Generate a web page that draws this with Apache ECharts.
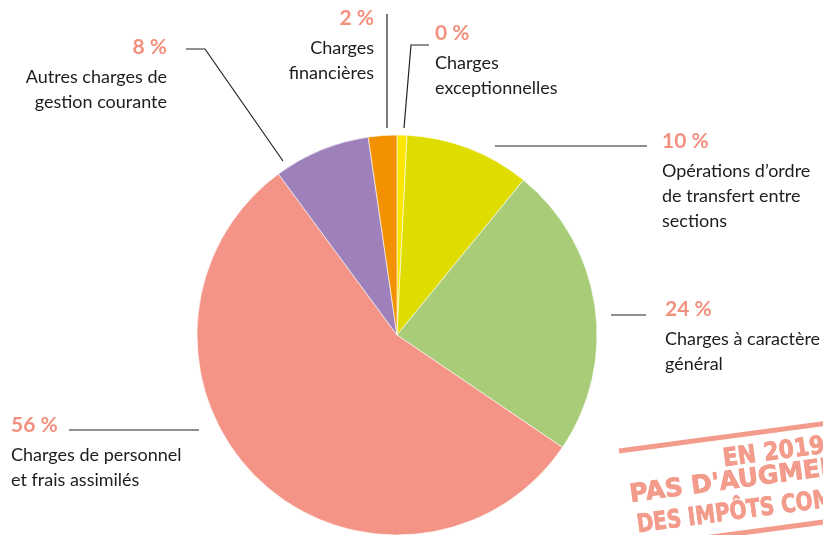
<!DOCTYPE html>
<html>
<head>
<meta charset="utf-8">
<script src="https://cdn.jsdelivr.net/npm/echarts@6/dist/echarts.min.js"></script>
<style>
  html, body { margin: 0; padding: 0; background: #fff; }
  #chart { width: 823px; height: 535px; }
</style>
</head>
<body>
<div id="chart"></div>
<script>
// slices, clockwise from 12 o'clock
const categories = [
  'Charges\nexceptionnelles',
  'Opérations d\u2019ordre\nde transfert entre\nsections',
  'Charges à caractère\ngénéral',
  'Charges de personnel\net frais assimilés',
  'Autres charges de\ngestion courante',
  'Charges\nfinancières'
];
const shares = [0.8, 10.1, 23.6, 55.4, 7.8, 2.3];
const shareLabels = ['0 %', '10 %', '24 %', '56 %', '8 %', '2 %'];
const colors = ['#fde600', '#dfdc00', '#a8cc78', '#f39486', '#9e80ba', '#f39200'];
const stampLines = ['EN 2019', 'PAS D\'AUGMENTATION', 'DES IMPÔTS COMMUNAUX'];

// label boxes and leader lines (layout only)
const labelPos = [
  { x: 435, y: 16, align: 'left', line: [[404, 128], [411, 45], [429, 45]] },
  { x: 662, y: 124, align: 'left', line: [[495, 146], [570, 146], [647, 146]] },
  { x: 665, y: 292, align: 'left', line: [[611, 315], [628, 315], [646, 315]] },
  { x: 11, y: 408, align: 'left', line: [[199, 430], [130, 430], [69, 430]] },
  { x: 167, y: 30, align: 'right', line: [[283, 161], [205, 49], [186, 49]] },
  { x: 374, y: 1, align: 'right', line: [[387, 128], [387, 70], [387, 14]] }
];

const chart = echarts.init(document.getElementById('chart'));
const salmon = '#f2917f';

const stampText = (i, x, y, sx) => ({
  type: 'text', x: x, y: y, scaleX: sx,
  style: {
    text: stampLines[i], fontFamily: 'DejaVu Sans', fontWeight: 'bold', fontSize: 25,
    fill: salmon, stroke: salmon, lineWidth: 0.8, opacity: 0.9,
    align: 'left', verticalAlign: 'top'
  }
});

const option = {
  backgroundColor: '#fff',
  animation: false,
  series: [
    {
      type: 'pie',
      center: [397, 335],
      radius: 200,
      startAngle: 90,
      clockwise: true,
      silent: true,
      itemStyle: { borderColor: '#fff', borderWidth: 0.6 },
      data: shares.map((v, i) => ({
        value: v,
        name: categories[i],
        itemStyle: { color: colors[i] },
        label: {
          align: labelPos[i].align,
          rich: {
            p: { align: labelPos[i].align },
            n: { align: labelPos[i].align }
          }
        }
      })),
      label: {
        show: true,
        fontFamily: 'Lato',
        formatter: (p) => '{p|' + shareLabels[p.dataIndex] + '}\n' +
          p.name.split('\n').map(s => '{n|' + s + '}').join('\n'),
        rich: {
          p: { fontFamily: 'Lato', fontSize: 21, fontWeight: 'bold', color: salmon, lineHeight: 35 },
          n: { fontFamily: 'Lato', fontSize: 18, color: '#1d1d1b', lineHeight: 25 }
        }
      },
      labelLine: {
        show: true,
        lineStyle: { color: '#222', width: 1.2 }
      },
      labelLayout: (params) => {
        const l = labelPos[params.dataIndex];
        return {
          x: l.x,
          y: l.y,
          align: l.align,
          verticalAlign: 'top',
          labelLinePoints: l.line
        };
      }
    }
  ],
  graphic: [
    {
      type: 'group',
      x: 619,
      y: 451,
      rotation: 7.6 * Math.PI / 180,
      silent: true,
      children: [
        { type: 'rect', shape: { x: 0, y: -2.5, width: 330, height: 5 }, style: { fill: salmon, opacity: 0.9 } },
        stampText(0, 102, 10, 0.88),
        stampText(1, 5, 33, 1.0),
        stampText(2, 8, 64, 0.8),
        { type: 'rect', shape: { x: 0, y: 95, width: 330, height: 5 }, style: { fill: salmon, opacity: 0.9 } }
      ]
    }
  ]
};

chart.setOption(option);
</script>
</body>
</html>
